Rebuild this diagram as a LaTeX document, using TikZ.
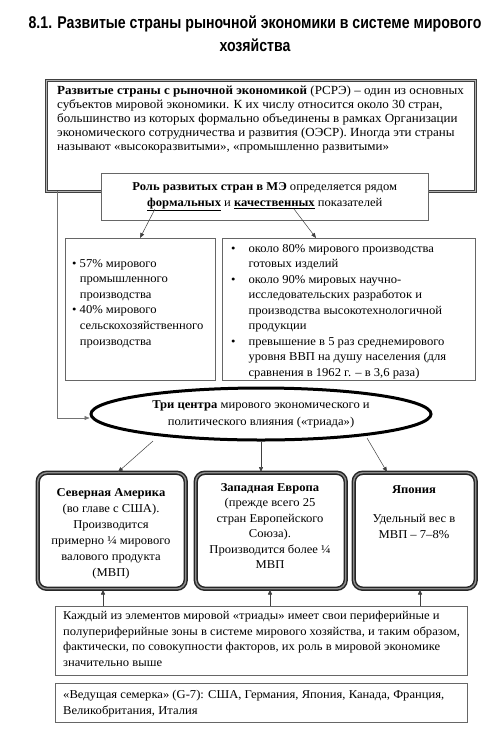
\documentclass[tikz,border=0pt]{standalone}
\usepackage{fontspec}
\setmainfont{Liberation Serif}[FakeStretch=1.05]
\newfontfamily\titlefont[FakeStretch=0.83]{Liberation Sans}
\usetikzlibrary{arrows.meta,shapes.geometric}
\tikzset{
  thinbox/.style={draw=black!60, line width=0.6pt, inner sep=0pt},
  thickbox/.style={draw=black!75, line width=0.9pt, double=black!30, double distance=0.9pt, inner sep=0pt},
  roundbox/.style={draw=black!85, line width=1.5pt, double=black!45, double distance=1.4pt, rounded corners=9pt, inner sep=0pt},
  ellbox/.style={ellipse, draw=black, line width=3pt, inner sep=0pt},
  txt/.style={font=\fontsize{12}{14}\selectfont, inner sep=0pt},
  arr/.style={-{Triangle[length=5pt,width=4pt]}, draw=black!75, line width=0.5pt},
}
\begin{document}
\begin{tikzpicture}[x=1pt,y=-1pt]
\useasboundingbox[fill=white] (0,0) rectangle (500,732);
% title
\node[font=\titlefont\bfseries\fontsize{17}{23}\selectfont, align=center, inner sep=0pt] (title) at (255,34)
  {8.1. Развитые страны рыночной экономики в системе мирового\\хозяйства};
% top box
\node[thickbox, minimum width=429pt, minimum height=111pt, anchor=north west] (top) at (46,80) {};
\node[txt, anchor=north west, align=left, font=\fontsize{12.4}{14}\selectfont] (toptxt) at (57,86)
  {\textbf{Развитые страны с рыночной экономикой} (РСРЭ) – один из основных\\
   субъектов мировой экономики. К их числу относится около 30 стран,\\
   большинство из которых формально объединены в рамках Организации\\
   экономического сотрудничества и развития (ОЭСР). Иногда эти страны\\
   называют «высокоразвитыми», «промышленно развитыми»};
% role box
\node[thinbox, fill=white, minimum width=327pt, minimum height=47pt, anchor=north west] (role) at (101,173) {};
\node[txt, align=center, font=\fontsize{12}{16}\selectfont] (roletxt) at (role.center)
  {\textbf{Роль развитых стран в МЭ} определяется рядом\\
   \underline{\textbf{формальных}} и \underline{\textbf{качественных}} показателей};
% left and right boxes
\node[thinbox, minimum width=150pt, minimum height=142pt, anchor=north west] (lbox) at (65,238) {};
\node[thinbox, minimum width=253pt, minimum height=142pt, anchor=north west] (rbox) at (222,238) {};
\node[txt, anchor=north west, align=left, font=\fontsize{12}{15.6}\selectfont] (ltxt) at (72,259)
  {•~57\% мирового\\
   \phantom{•~}промышленного\\
   \phantom{•~}производства\\
   •~40\% мирового\\
   \phantom{•~}сельскохозяйственного\\
   \phantom{•~}производства};
\node[txt, anchor=north west, align=left, font=\fontsize{12}{15.5}\selectfont] (rtxt) at (231,244)
  {•\hspace{13pt}около 80\% мирового производства\\
   \phantom{•}\hspace{13pt}готовых изделий\\
   •\hspace{13pt}около 90\% мировых научно-\\
   \phantom{•}\hspace{13pt}исследовательских разработок и\\
   \phantom{•}\hspace{13pt}производства высокотехнологичной\\
   \phantom{•}\hspace{13pt}продукции\\
   •\hspace{13pt}превышение в 5 раз среднемирового\\
   \phantom{•}\hspace{13pt}уровня ВВП на душу населения (для\\
   \phantom{•}\hspace{13pt}сравнения в 1962 г. – в 3,6 раза)};
\coordinate (f1) at (155,209);
\coordinate (f2) at (294,209);
\draw[arr] (f1) -- (lbox.north -| 140,0);
\draw[arr] (f2) -- (rbox.north -| 316,0);
% ellipse
\node[ellbox, minimum width=340pt, minimum height=52pt] (ell) at (261,414) {};
\node[txt, align=center, font=\fontsize{12}{17}\selectfont] (elltxt) at (ell.center)
  {\textbf{Три центра} мирового экономического и\\
   политического влияния («триада»)};
% side connector
\coordinate (side) at (57,191);
\draw[arr, draw=black!55] (side) -- (57,418) -- (ell.west |- 0,418);
% three centers
\node[roundbox, minimum width=148pt, minimum height=116pt, anchor=north west] (na) at (37,472) {};
\node[roundbox, minimum width=150pt, minimum height=116pt, anchor=north west] (we) at (195,472) {};
\node[roundbox, minimum width=122pt, minimum height=116pt, anchor=north west] (jp) at (353,472) {};
\node[txt, align=center, font=\fontsize{12}{16}\selectfont, anchor=north] (natxt) at (111,488)
  {\textbf{Северная Америка}\\(во главе с США).\\Производится\\примерно ¼ мирового\\валового продукта\\(МВП)};
\node[txt, align=center, font=\fontsize{12}{15.5}\selectfont, anchor=north] (wetxt) at (270,483)
  {\textbf{Западная Европа}\\(прежде всего 25\\стран Европейского\\Союза).\\Производится более ¼\\МВП};
\node[txt, align=center, font=\fontsize{12}{15.5}\selectfont, anchor=north] (jptxt) at (414,485)
  {\textbf{Япония}\\[14pt]Удельный вес в\\МВП – 7–8\%};
\coordinate (e1) at (153,441);
\coordinate (e3) at (367,438);
\draw[arr] (e1) -- (na.north -| 118,0);
\draw[arr] (ell.south -| 261,0) -- (we.north -| 261,0);
\draw[arr] (e3) -- (jp.north -| 387,0);
% bottom boxes
\node[thinbox, minimum width=412pt, minimum height=69pt, anchor=north west] (per) at (55,606) {};
\node[txt, anchor=north west, align=left, font=\fontsize{12}{15.5}\selectfont] (pertxt) at (63,611)
  {Каждый из элементов мировой «триады» имеет свои периферийные и\\
   полупериферийные зоны в системе мирового хозяйства, и таким образом,\\
   фактически, по совокупности факторов, их роль в мировой экономике\\
   значительно выше};
\draw[arr] (per.north -| 103,0) -- (na.south -| 103,0);
\draw[arr] (per.north -| 270,0) -- (we.south -| 270,0);
\draw[arr] (per.north -| 420,0) -- (jp.south -| 420,0);
\node[thinbox, minimum width=412pt, minimum height=39pt, anchor=north west] (g7) at (55,683) {};
\node[txt, anchor=north west, align=left, font=\fontsize{12}{15.5}\selectfont] (g7txt) at (63,690)
  {«Ведущая семерка» (G-7): США, Германия, Япония, Канада, Франция,\\
   Великобритания, Италия};
\end{tikzpicture}
\end{document}
